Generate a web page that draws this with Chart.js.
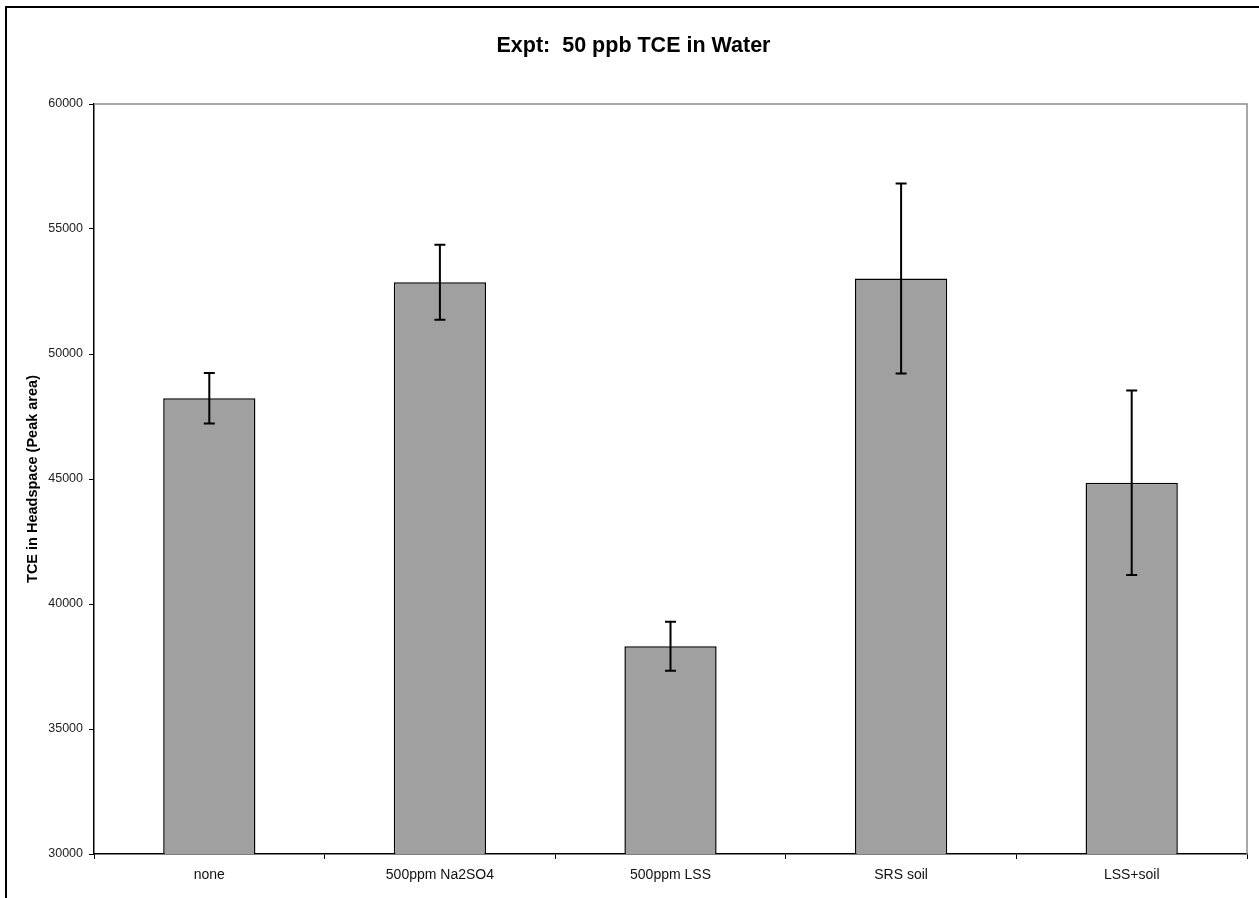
<!DOCTYPE html>
<html>
<head>
<meta charset="utf-8">
<title>Expt: 50 ppb TCE in Water</title>
<script src="https://cdn.jsdelivr.net/npm/chart.js@4/dist/chart.umd.min.js"></script>
<style>
  html, body { margin: 0; padding: 0; background: #ffffff; }
  #wrap { position: relative; width: 1259px; height: 898px; }
  canvas { display: block; }
</style>
</head>
<body>
<div id="wrap"><canvas id="chart" width="1259" height="898"></canvas></div>
<script>
// Treatments and measured headspace peak areas (mean ± error)
const categories = ['none', '500ppm Na2SO4', '500ppm LSS', 'SRS soil', 'LSS+soil'];
const peakArea = [48230, 52870, 38310, 53020, 44850];
const peakAreaError = [1010, 1500, 980, 3800, 3690];
const yTicks = [30000, 35000, 40000, 45000, 50000, 55000, 60000];

const FONT = "'Liberation Sans', Arial, Helvetica, sans-serif";

// Outer frame, title and the grey top/right edge of the plot area
const framePlugin = {
  id: 'frame',
  beforeDraw(chart) {
    const ctx = chart.ctx;
    ctx.save();
    ctx.fillStyle = '#ffffff';
    ctx.fillRect(0, 0, chart.width, chart.height);
    ctx.strokeStyle = '#000000';
    ctx.lineWidth = 2;
    ctx.beginPath();
    ctx.moveTo(6, chart.height + 2);
    ctx.lineTo(6, 7);
    ctx.lineTo(chart.width + 2, 7);
    ctx.stroke();
    ctx.restore();
  },
  afterDraw(chart) {
    const ctx = chart.ctx;
    const a = chart.chartArea;
    ctx.save();
    ctx.strokeStyle = '#8c8c8c';
    ctx.lineWidth = 1.5;
    ctx.beginPath();
    ctx.moveTo(a.left, a.top);
    ctx.lineTo(a.right, a.top);
    ctx.lineTo(a.right, a.bottom);
    ctx.stroke();
    ctx.fillStyle = '#000000';
    ctx.font = 'bold 21.5px ' + FONT;
    ctx.textAlign = 'center';
    ctx.textBaseline = 'middle';
    ctx.fillText('Expt:  50 ppb TCE in Water', 633.5, 46);
    ctx.restore();
  }
};

// Vertical error bars with short caps
const errorBarPlugin = {
  id: 'errorBars',
  afterDatasetsDraw(chart) {
    const ctx = chart.ctx;
    const y = chart.scales.y;
    const meta = chart.getDatasetMeta(0);
    ctx.save();
    ctx.strokeStyle = '#000000';
    ctx.lineWidth = 2;
    const cap = 5.5;
    meta.data.forEach((bar, i) => {
      const x = bar.x;
      const top = y.getPixelForValue(peakArea[i] + peakAreaError[i]);
      const bot = y.getPixelForValue(peakArea[i] - peakAreaError[i]);
      ctx.beginPath();
      ctx.moveTo(x, top);
      ctx.lineTo(x, bot);
      ctx.moveTo(x - cap, top);
      ctx.lineTo(x + cap, top);
      ctx.moveTo(x - cap, bot);
      ctx.lineTo(x + cap, bot);
      ctx.stroke();
    });
    ctx.restore();
  }
};

new Chart(document.getElementById('chart'), {
  type: 'bar',
  data: {
    labels: categories,
    datasets: [{
      data: peakArea,
      backgroundColor: '#a0a0a0',
      borderColor: '#000000',
      borderWidth: 1.5,
      borderSkipped: 'start',
      barPercentage: 0.4,
      categoryPercentage: 1.0
    }]
  },
  options: {
    responsive: false,
    animation: false,
    devicePixelRatio: 1,
    layout: { padding: { left: 20, right: 12, top: 104, bottom: 0 } },
    plugins: {
      legend: { display: false },
      title: { display: false },
      tooltip: { enabled: false }
    },
    scales: {
      x: {
        type: 'category',
        offset: true,
        grid: {
          offset: true,
          drawOnChartArea: false,
          drawTicks: true,
          tickLength: 5,
          color: '#000000',
          lineWidth: 1
        },
        border: { display: true, color: '#000000', width: 1.5 },
        ticks: {
          color: '#111111',
          font: { family: FONT, size: 14 },
          padding: 8,
          maxRotation: 0,
          autoSkip: false
        },
        afterFit(scale) { scale.height = 44; }
      },
      y: {
        min: yTicks[0],
        max: yTicks[yTicks.length - 1],
        afterBuildTicks(scale) {
          scale.ticks = yTicks.map(v => ({ value: v }));
        },
        grid: {
          drawOnChartArea: false,
          drawTicks: true,
          tickLength: 5,
          color: '#000000',
          lineWidth: 1
        },
        border: { display: true, color: '#000000', width: 1.5 },
        ticks: {
          color: '#222222',
          font: { family: FONT, size: 12.5 },
          padding: 6,
          callback: v => String(v)
        },
        title: {
          display: true,
          text: 'TCE in Headspace (Peak area)',
          color: '#000000',
          font: { family: FONT, size: 14.5, weight: 'bold' },
          padding: { top: 4, bottom: 0 }
        },
        afterFit(scale) { scale.width = 74; }
      }
    }
  },
  plugins: [framePlugin, errorBarPlugin]
});
</script>
</body>
</html>
